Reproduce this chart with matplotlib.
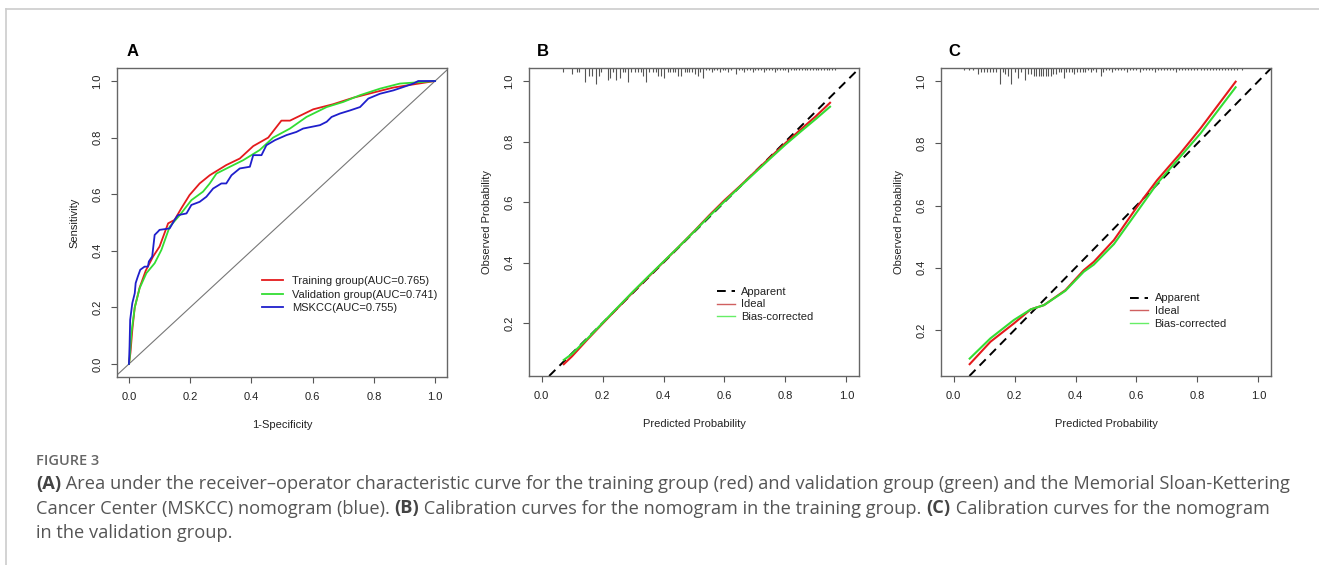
import matplotlib
matplotlib.use("Agg")
import matplotlib.pyplot as plt
from matplotlib.lines import Line2D
import matplotlib.transforms as mtransforms

plt.rcParams["font.family"] = ["Liberation Sans", "DejaVu Sans"]

# ---- panel A: ROC curves ----
train_fpr = [0.0, 0.005, 0.011, 0.019, 0.035, 0.055, 0.079, 0.10, 0.128, 0.149, 0.171, 0.198,
             0.231, 0.264, 0.318, 0.362, 0.406, 0.455, 0.498, 0.526, 0.602, 0.667, 0.733,
             0.798, 0.864, 0.929, 1.0]
train_tpr = [0.0, 0.04, 0.12, 0.20, 0.27, 0.33, 0.38, 0.415, 0.497, 0.509, 0.55, 0.597,
             0.638, 0.667, 0.703, 0.726, 0.77, 0.80, 0.86, 0.86, 0.90, 0.918, 0.941,
             0.959, 0.977, 0.988, 1.0]

valid_fpr = [0.0, 0.002, 0.008, 0.019, 0.035, 0.057, 0.084, 0.106, 0.133, 0.166, 0.204,
             0.242, 0.264, 0.286, 0.33, 0.373, 0.427, 0.471, 0.526, 0.58, 0.646, 0.70,
             0.755, 0.82, 0.885, 0.951, 1.0]
valid_tpr = [0.0, 0.015, 0.11, 0.20, 0.268, 0.321, 0.356, 0.403, 0.485, 0.526, 0.579,
             0.609, 0.638, 0.673, 0.697, 0.72, 0.756, 0.80, 0.832, 0.873, 0.908, 0.926,
             0.95, 0.973, 0.991, 0.996, 1.0]

mskcc_fpr = [0.0, 0.002, 0.004, 0.011, 0.019, 0.022, 0.029, 0.037, 0.051, 0.062, 0.065,
             0.076, 0.084, 0.095, 0.10, 0.133, 0.149, 0.16, 0.188, 0.204, 0.231, 0.253,
             0.275, 0.302, 0.318, 0.335, 0.362, 0.395, 0.406, 0.433, 0.449, 0.477, 0.515,
             0.547, 0.569, 0.624, 0.646, 0.662, 0.689, 0.722, 0.755, 0.782, 0.82, 0.864,
             0.897, 0.929, 0.945, 1.0]
mskcc_tpr = [0.0, 0.062, 0.156, 0.215, 0.25, 0.286, 0.309, 0.333, 0.344, 0.344, 0.362,
             0.38, 0.456, 0.468, 0.474, 0.479, 0.509, 0.526, 0.532, 0.562, 0.573, 0.591,
             0.62, 0.638, 0.638, 0.667, 0.691, 0.697, 0.738, 0.738, 0.773, 0.791, 0.809,
             0.82, 0.832, 0.844, 0.856, 0.873, 0.885, 0.896, 0.908, 0.938, 0.955, 0.967,
             0.979, 0.991, 1.0, 1.0]

roc_labels = ["Training group(AUC=0.765)", "Validation group(AUC=0.741)", "MSKCC(AUC=0.755)"]

# ---- panel B: calibration, training group ----
calb_pred = [0.073, 0.1, 0.15, 0.2, 0.25, 0.3, 0.35, 0.4, 0.45, 0.5, 0.55, 0.6, 0.65,
             0.7, 0.75, 0.8, 0.85, 0.9, 0.946]
calb_ideal = [0.064, 0.09, 0.145, 0.198, 0.25, 0.302, 0.352, 0.402, 0.452, 0.503, 0.556,
              0.606, 0.652, 0.7, 0.748, 0.795, 0.84, 0.884, 0.928]
calb_bias = [0.078, 0.098, 0.148, 0.2, 0.252, 0.304, 0.354, 0.403, 0.452, 0.502, 0.553,
             0.602, 0.65, 0.697, 0.744, 0.79, 0.833, 0.875, 0.915]

rugb_x = [0.072, 0.099, 0.116, 0.122, 0.144, 0.155, 0.165, 0.179, 0.187, 0.196, 0.217,
          0.225, 0.234, 0.245, 0.259, 0.267, 0.273, 0.285, 0.294, 0.305, 0.316, 0.327,
          0.332, 0.341, 0.352, 0.365, 0.376, 0.383, 0.392, 0.403, 0.414, 0.422, 0.431,
          0.439, 0.449, 0.458, 0.469, 0.476, 0.485, 0.493, 0.504, 0.512, 0.52, 0.529,
          0.540, 0.549, 0.558, 0.567, 0.576, 0.585, 0.594, 0.603, 0.612, 0.621, 0.638,
          0.647, 0.656, 0.665, 0.674, 0.683, 0.692, 0.701, 0.710, 0.719, 0.728, 0.737,
          0.746, 0.755, 0.764, 0.773, 0.782, 0.791, 0.800, 0.809, 0.818, 0.827, 0.836,
          0.845, 0.854, 0.863, 0.872, 0.881, 0.890, 0.899, 0.908, 0.917, 0.926, 0.935,
          0.944, 0.953, 0.962]
rugb_n = [2, 3, 2, 2, 7, 4, 4, 8, 4, 2, 6,
          5, 2, 6, 5, 2, 2, 7, 2, 2, 2, 2,
          4, 7, 2, 2, 2, 4, 4, 5, 2, 2, 2,
          2, 4, 4, 2, 2, 2, 2, 3, 4, 2, 5,
          1, 1, 2, 1, 1, 2, 1, 1, 2, 1, 3,
          1, 1, 2, 1, 1, 2, 1, 1, 1, 2, 1,
          1, 1, 2, 1, 1, 1, 1, 2, 1, 1, 1,
          1, 1, 1, 1, 1, 1, 1, 1, 1, 1, 1,
          1, 1, 1]

# ---- panel C: calibration, validation group ----
calc_pred = [0.053, 0.121, 0.198, 0.253, 0.297, 0.367, 0.427, 0.46, 0.526, 0.602, 0.668,
             0.744, 0.81, 0.925]
calc_ideal = [0.09, 0.162, 0.221, 0.266, 0.28, 0.328, 0.392, 0.419, 0.489, 0.596, 0.682,
              0.768, 0.848, 0.998]
calc_bias = [0.108, 0.173, 0.232, 0.266, 0.28, 0.326, 0.387, 0.41, 0.476, 0.58, 0.671,
             0.757, 0.832, 0.98]

rugc_x = [0.034, 0.05, 0.063, 0.08, 0.09, 0.1, 0.11, 0.12, 0.13, 0.14, 0.154, 0.162,
          0.17, 0.178, 0.19, 0.2, 0.211, 0.222, 0.236, 0.245, 0.254, 0.263, 0.271,
          0.279, 0.287, 0.295, 0.303, 0.311, 0.319, 0.327, 0.335, 0.345, 0.353, 0.361,
          0.37, 0.378, 0.387, 0.396, 0.405, 0.414, 0.423, 0.432, 0.441, 0.45, 0.459,
          0.468, 0.482, 0.49, 0.5, 0.51, 0.52, 0.53, 0.54, 0.55, 0.56, 0.57, 0.58,
          0.59, 0.6, 0.61, 0.62, 0.63, 0.64, 0.65, 0.66, 0.67, 0.68, 0.69, 0.70,
          0.71, 0.72, 0.73, 0.74, 0.75, 0.76, 0.77, 0.78, 0.79, 0.80, 0.81, 0.82,
          0.83, 0.84, 0.85, 0.86, 0.87, 0.88, 0.89, 0.90, 0.91, 0.92, 0.93, 0.947]
rugc_n = [1, 1, 1, 3, 2, 2, 2, 2, 2, 2, 8, 2,
          3, 4, 8, 2, 5, 2, 6, 3, 3, 4, 4,
          4, 4, 4, 4, 4, 4, 3, 3, 2, 2, 5,
          2, 2, 2, 3, 2, 2, 2, 2, 1, 2, 1,
          2, 4, 2, 1, 1, 2, 1, 1, 1, 1, 2, 1,
          1, 1, 2, 1, 1, 1, 1, 2, 1, 1, 1, 1,
          1, 1, 2, 1, 1, 1, 1, 1, 1, 1, 1, 1,
          1, 1, 1, 1, 1, 1, 1, 1, 1, 1, 1, 1]

cal_labels = ["Apparent", "Ideal", "Bias-corrected"]
ticks = [0.0, 0.2, 0.4, 0.6, 0.8, 1.0]

RED = "#e41a1c"
GREEN = "#33dd33"
BLUE = "#1f1fcc"
TXT = "#222222"

fig = plt.figure(figsize=(13.19, 5.65), dpi=100)


def style(ax, xlim, ylim, yticks, xlabel, ylabel):
    ax.set_xlim(*xlim)
    ax.set_ylim(*ylim)
    ax.set_xticks(ticks)
    ax.set_yticks(yticks)
    ax.set_xticklabels(["%.1f" % t for t in ticks])
    ax.set_yticklabels(["%.1f" % t for t in yticks], rotation=90, va="center")
    ax.tick_params(labelsize=8, colors="#555555", labelcolor=TXT, length=4.5, width=0.8)
    ax.tick_params(axis="x", pad=6)
    ax.tick_params(axis="y", pad=6)
    for s in ax.spines.values():
        s.set_color("#666666")
        s.set_linewidth(1.0)
    ax.set_xlabel(xlabel, fontsize=8, color=TXT, labelpad=13.5)
    ax.set_ylabel(ylabel, fontsize=8, color=TXT, labelpad=9)


# A
axA = fig.add_axes([117 / 1319, 188 / 565, 330 / 1319, 309 / 565])
axA.axline((0, 0), (1, 1), color="#777777", lw=0.8)
axA.plot(train_fpr, train_tpr, color=RED, lw=1.3, label=roc_labels[0])
axA.plot(valid_fpr, valid_tpr, color=GREEN, lw=1.3, label=roc_labels[1])
axA.plot(mskcc_fpr, mskcc_tpr, color=BLUE, lw=1.3, label=roc_labels[2])
style(axA, (-0.039, 1.039), (-0.046, 1.046), ticks, "1-Specificity", "Sensitivity")
axA.legend(loc="upper left", bbox_to_anchor=(0.439, 0.327), frameon=False, fontsize=8,
           borderpad=0, borderaxespad=0, handlelength=1.9, handletextpad=0.8,
           labelspacing=0.32, labelcolor=TXT)


def calib(ax, pred, ideal, bias, rx, rn, ylim, legend_xy):
    ax.axline((0, 0), (1, 1), color="black", lw=1.4, ls=(0, (4.5, 3)))
    ax.plot(pred, ideal, color=RED, lw=1.5)
    ax.plot(pred, bias, color=GREEN, lw=1.5)
    trans = mtransforms.blended_transform_factory(ax.transData, ax.transAxes)
    ax.vlines(rx, [1 - 2.0 * n / 308 for n in rn], 1.0, transform=trans,
              color="#555555", lw=0.8)
    handles = [Line2D([], [], color="black", lw=1.4, ls=(0, (4.5, 3))),
               Line2D([], [], color="#d06060", lw=1.0),
               Line2D([], [], color="#66ee66", lw=1.0)]
    ax.legend(handles, cal_labels, loc="upper left", bbox_to_anchor=legend_xy,
              frameon=False, fontsize=8, borderpad=0, borderaxespad=0,
              handlelength=1.6, handletextpad=0.6, labelspacing=0.25, labelcolor=TXT)
    style(ax, (-0.041, 1.041), ylim, ticks[1:], "Predicted Probability", "Observed Probability")


axB = fig.add_axes([529 / 1319, 189 / 565, 330 / 1319, 308 / 565])
calib(axB, calb_pred, calb_ideal, calb_bias, rugb_x, rugb_n, (0.025, 1.043), (0.569, 0.29))

axC = fig.add_axes([941 / 1319, 189 / 565, 330 / 1319, 308 / 565])
calib(axC, calc_pred, calc_ideal, calc_bias, rugc_x, rugc_n, (0.052, 1.042), (0.573, 0.268))

for lab, x in [("A", 133), ("B", 543), ("C", 954)]:
    fig.text(x / 1319, 1 - 52 / 565, lab, fontsize=12, fontweight="bold",
             ha="center", va="center", color="black")

# page border
fig.add_artist(Line2D([6 / 1319, 1.0], [1 - 9 / 565, 1 - 9 / 565], color="#cccccc", lw=1.2))
fig.add_artist(Line2D([6 / 1319, 6 / 1319], [0, 1 - 9 / 565], color="#cccccc", lw=1.2))

# caption
cap_font = ["Open Sans", "DejaVu Sans"]
fig.text(36 / 1319, 1 - 461 / 565, "FIGURE 3", fontsize=10.5, fontweight="semibold",
         color="#666666", family=cap_font, va="center")

caption = [
    [("(A)", True), (" Area under the receiver\u2013operator characteristic curve for the training "
                     "group (red) and validation group (green) and the Memorial Sloan-Kettering", False)],
    [("Cancer Center (MSKCC) nomogram (blue). ", False), ("(B)", True),
     (" Calibration curves for the nomogram in the training group. ", False), ("(C)", True),
     (" Calibration curves for the nomogram", False)],
    [("in the validation group.", False)],
]
renderer = fig.canvas.get_renderer()
for i, line in enumerate(caption):
    x = 36
    y = 1 - (484 + 24.5 * i) / 565
    for txt, bold in line:
        t = fig.text(x / 1319, y, txt, fontsize=13.15, family=cap_font, va="center",
                     fontweight="bold" if bold else "normal",
                     color="#444444" if bold else "#555555")
        x += t.get_window_extent(renderer).width

fig.savefig("out.png", dpi=100)
